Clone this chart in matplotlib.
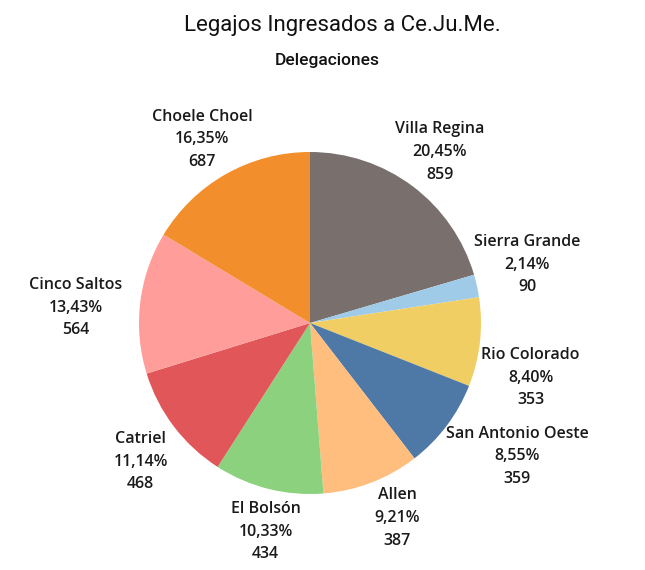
import matplotlib
matplotlib.use("Agg")
import matplotlib.pyplot as plt

delegaciones = ["Villa Regina", "Sierra Grande", "Rio Colorado", "San Antonio Oeste",
                "Allen", "El Bolsón", "Catriel", "Cinco Saltos", "Choele Choel"]
legajos = [859, 90, 353, 359, 387, 434, 468, 564, 687]
colores = ["#79706E", "#A0CBE8", "#F1CE63", "#4E79A7", "#FFBE7D",
           "#8CD17D", "#E15759", "#FF9D9A", "#F28E2B"]

# label positions relative to the pie centre, in radii
label_pos = [(0.76, 1.00), (1.27, 0.34), (1.29, -0.32), (1.21, -0.78), (0.51, -1.14),
             (-0.26, -1.22), (-0.99, -0.81), (-1.37, 0.09), (-0.63, 1.075)]

W, H = 645, 570
fig = plt.figure(figsize=(W / 100, H / 100), dpi=100)
ax = fig.add_axes([0, 0, 1, 1])

cx, cy, r = 310, H - 323, 171
ax.pie(legajos, colors=colores, startangle=90, counterclock=False,
       center=(cx, cy), radius=r, wedgeprops=dict(linewidth=0))
ax.set_xlim(0, W)
ax.set_ylim(0, H)
ax.set_aspect("equal")
ax.axis("off")

total = sum(legajos)
for nombre, v, (px, py) in zip(delegaciones, legajos, label_pos):
    pct = f"{100 * v / total:.2f}".replace(".", ",") + "%"
    ax.text(cx + px * r, cy + py * r, f"{nombre}\n{pct}\n{v}", ha="center", va="center",
            fontsize=11.5, family="Open Sans", fontweight="semibold", color="#1a1a1a",
            linespacing=1.55)

fig.text(0.5 * (185 + 500) / W, 1 - 25 / H, "Legajos Ingresados a Ce.Ju.Me.",
         ha="center", va="center", fontsize=16, family="Roboto", color="#111111")
fig.text((272 + 383) / 2 / W, 1 - 60 / H, "Delegaciones",
         ha="center", va="center", fontsize=12.5, family="Roboto", fontweight="medium",
         color="#111111")

fig.savefig("out.png", dpi=100)
